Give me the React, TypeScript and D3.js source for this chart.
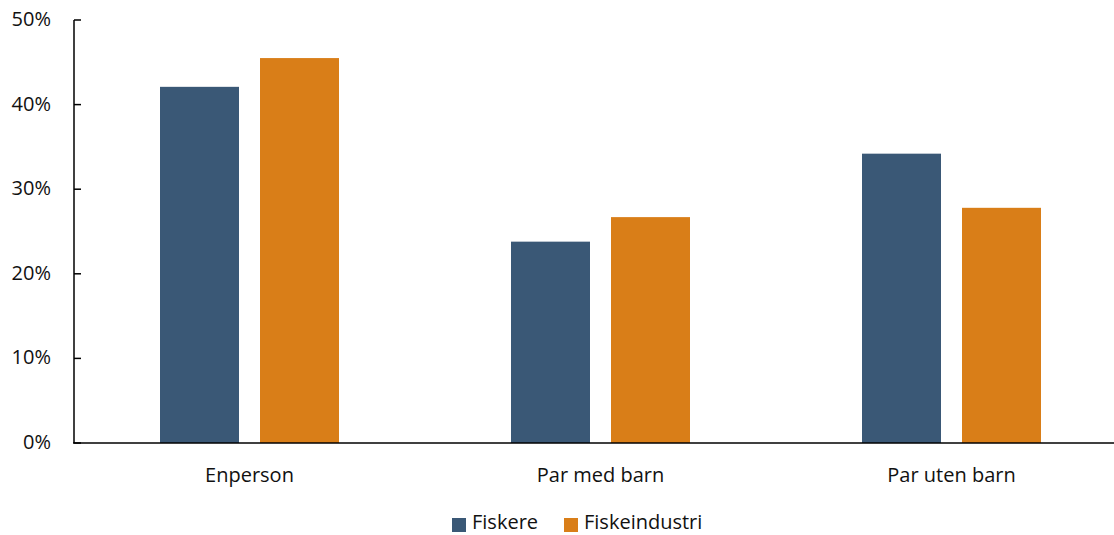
import React from "react";
import * as d3 from "d3";

const categories = ["Enperson", "Par med barn", "Par uten barn"];
const seriesNames = ["Fiskere", "Fiskeindustri"];
const fiskere = [0.421, 0.238, 0.342];
const fiskeindustri = [0.455, 0.267, 0.278];
const yTicks = [0, 0.1, 0.2, 0.3, 0.4, 0.5];
const colors = ["#3A5876", "#D97E18"];

const W = 1114;
const H = 535;
const FONT = "'Open Sans', sans-serif";

export default function App() {
  const seriesValues = [fiskere, fiskeindustri];
  const x0 = d3.scaleBand<string>().domain(categories).range([74, 1127]).padding(0);
  const x1 = d3
    .scaleBand<string>()
    .domain(seriesNames)
    .range([0, x0.bandwidth()])
    .paddingInner(0.21)
    .paddingOuter(0.86);
  const y = d3.scaleLinear().domain([0, 0.5]).range([443, 20]);
  const fmt = d3.format(".0%");

  return (
    <svg width={W} height={H} style={{ position: "absolute", left: 0, top: 0, display: "block" }}
      fontFamily={FONT}>
      <rect width={W} height={H} fill="#fff" />
      {categories.map((c, ci) =>
        seriesNames.map((s, si) => {
          const v = seriesValues[si][ci];
          return (
            <rect
              key={c + s}
              x={(x0(c) ?? 0) + (x1(s) ?? 0)}
              y={y(v)}
              width={x1.bandwidth()}
              height={y(0) - y(v)}
              fill={colors[si]}
            />
          );
        })
      )}
      {/* y axis */}
      <line x1={74} x2={74} y1={20} y2={443} stroke="#000" strokeWidth={1.5} />
      {yTicks.map((t) => (
        <g key={t}>
          <line x1={74} x2={81} y1={y(t)} y2={y(t)} stroke="#000" strokeWidth={1.5} />
          <text x={51} y={y(t) + 6} textAnchor="end" fontSize={20} fill="#111">
            {fmt(t)}
          </text>
        </g>
      ))}
      {/* x axis */}
      <line x1={73} x2={W} y1={443} y2={443} stroke="#000" strokeWidth={1.5} />
      {categories.map((c) => (
        <text key={c} x={(x0(c) ?? 0) + x0.bandwidth() / 2} y={482}
          textAnchor="middle" fontSize={20} fill="#111">
          {c}
        </text>
      ))}
      {/* legend */}
      {seriesNames.map((s, i) => {
        const lx = [452, 564][i];
        return (
          <g key={s}>
            <rect x={lx} y={518} width={14} height={14} fill={colors[i]} />
            <text x={lx + 20} y={529} fontSize={20} fill="#111">
              {s}
            </text>
          </g>
        );
      })}
    </svg>
  );
}
